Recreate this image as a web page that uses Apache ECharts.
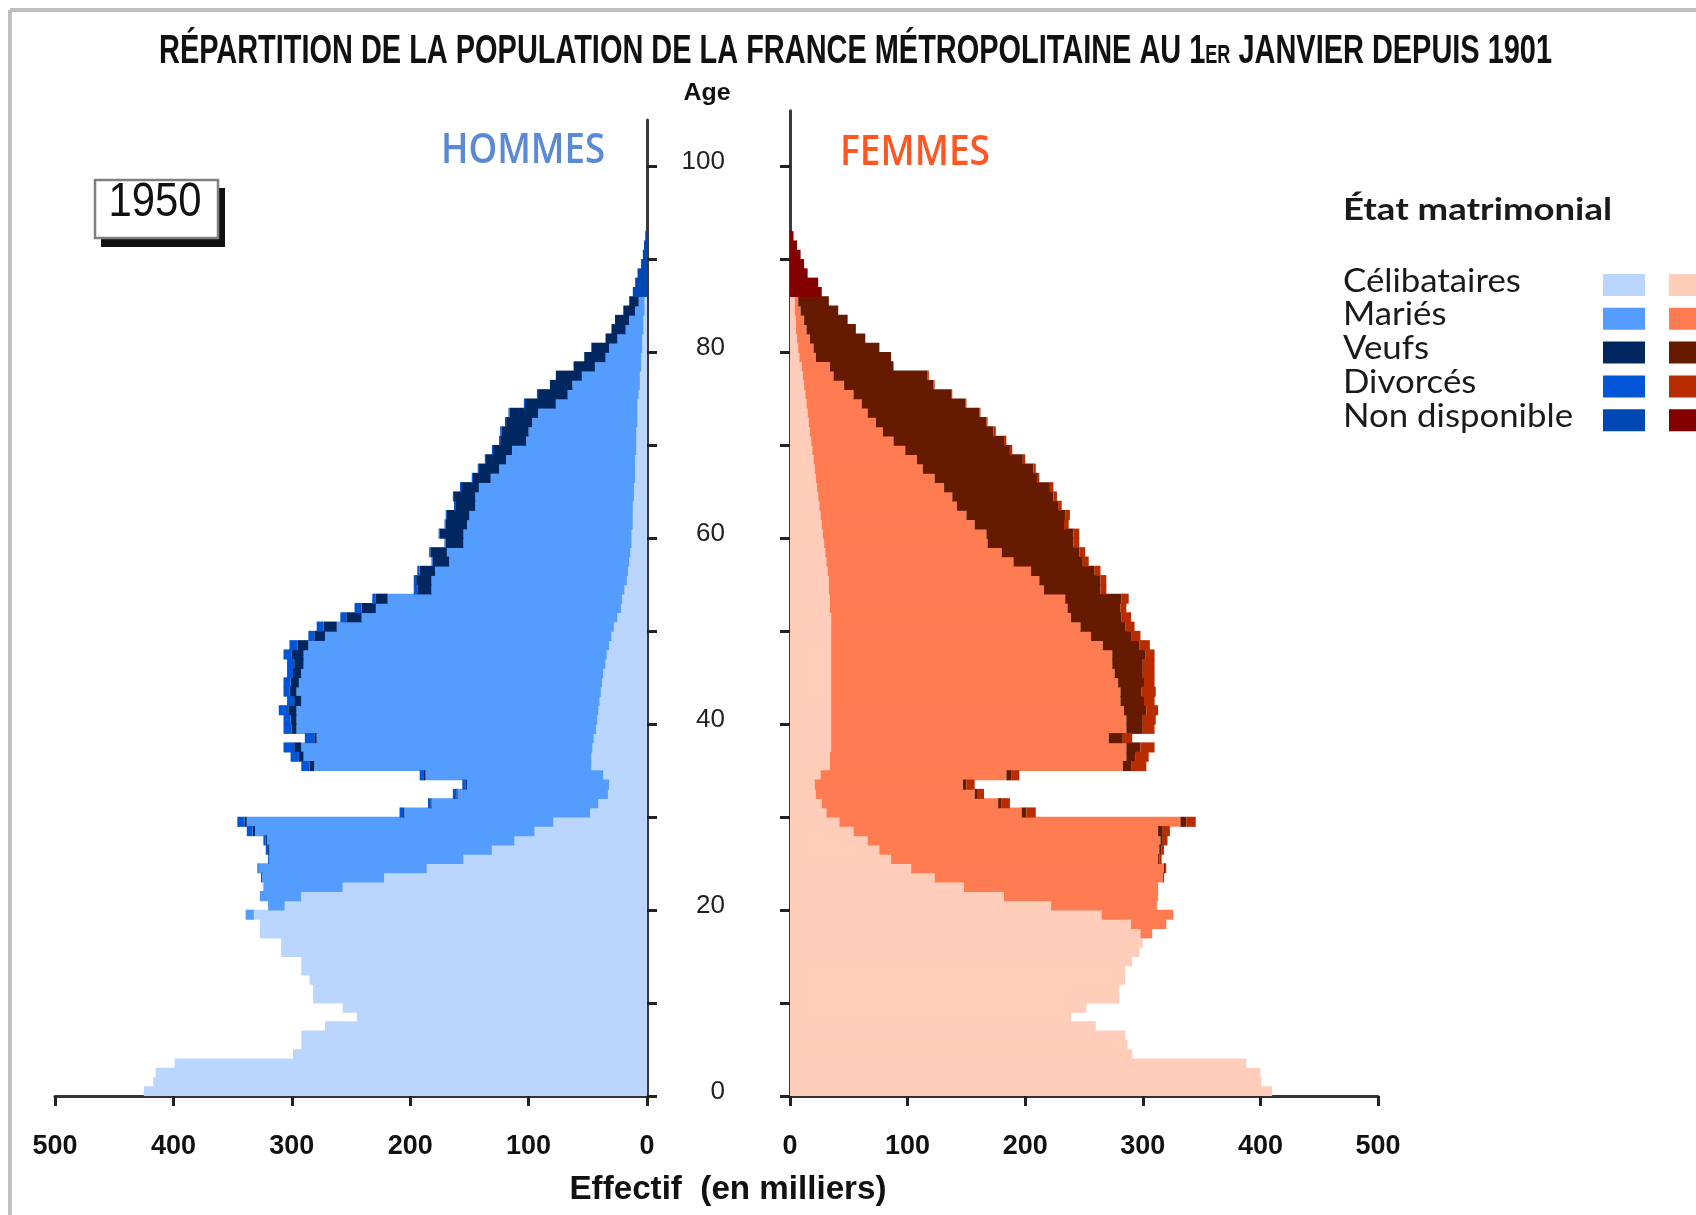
<!DOCTYPE html>
<html>
<head>
<meta charset="utf-8">
<title>Population France métropolitaine 1950</title>
<script src="https://cdn.jsdelivr.net/npm/echarts@6/dist/echarts.min.js"></script>
<style>
  html, body { margin: 0; padding: 0; background: #fff; }
  #chart { width: 1696px; height: 1215px; }
</style>
</head>
<body>
<div id="chart"></div>
<script>
const hommesCelibataires = [
  425, 417, 415, 399, 299, 292, 292, 272, 245, 257,
  282, 282, 285, 292, 292, 309, 309, 327, 327, 332,
  306, 292, 257, 222, 186, 155, 131, 112, 95, 79,
  48, 41, 33, 32, 37, 47, 47, 46, 45, 43,
  42, 41, 40, 39, 38, 37, 35, 34, 32, 30,
  28, 25, 22, 21, 19, 17, 16, 15, 14, 13,
  13, 12, 12, 12, 11, 11, 10, 10, 10, 9,
  9, 9, 8, 8, 8, 7, 6, 6, 5, 5,
  4, 4, 3, 3, 2, 2, 0, 0, 0, 0,
  0, 0, 0, 0
];
const hommesMaries = [
  0, 0, 0, 0, 0, 0, 0, 0, 0, 0,
  0, 0, 0, 0, 0, 0, 0, 0, 0, 7,
  14, 35, 67, 103, 142, 164, 188, 209, 236, 259,
  157, 141, 127, 120, 150, 234, 243, 246, 234, 253,
  254, 255, 252, 257, 256, 255, 255, 256, 254, 242,
  234, 216, 207, 198, 163, 165, 163, 152, 155, 142,
  142, 140, 138, 133, 134, 131, 122, 115, 109, 105,
  93, 91, 89, 84, 69, 60, 57, 49, 39, 30,
  28, 21, 15, 12, 8, 5, 0, 0, 0, 0,
  0, 0, 0, 0
];
const hommesVeufs = [
  0, 0, 0, 0, 0, 0, 0, 0, 0, 0,
  0, 0, 0, 0, 0, 0, 0, 0, 0, 0,
  0, 0, 0, 0, 0, 0, 1, 1, 2, 2,
  1, 1, 1, 1, 2, 4, 4, 6, 2, 4,
  5, 7, 6, 6, 7, 7, 8, 10, 9, 9,
  11, 13, 12, 10, 12, 13, 13, 14, 14, 15,
  20, 18, 19, 17, 18, 15, 15, 17, 17, 16,
  22, 23, 22, 24, 26, 25, 19, 22, 18, 18,
  15, 10, 12, 12, 10, 8, 0, 0, 0, 0,
  0, 0, 0, 0
];
const hommesDivorces = [
  0, 0, 0, 0, 0, 0, 0, 0, 0, 0,
  0, 0, 0, 0, 0, 0, 0, 0, 0, 0,
  0, 0, 0, 1, 1, 1, 2, 2, 5, 6,
  3, 2, 3, 3, 3, 7, 7, 9, 8, 7,
  6, 8, 6, 5, 6, 5, 6, 7, 7, 5,
  6, 5, 6, 3, 3, 2, 2, 1, 1, 1,
  1, 1, 1, 1, 1, 1, 1, 1, 1, 1,
  1, 1, 1, 1, 1, 1, 0, 0, 0, 0,
  0, 0, 0, 0, 0, 0, 0, 0, 0, 0,
  0, 0, 0, 0
];
const hommesNonDisponible = [
  0, 0, 0, 0, 0, 0, 0, 0, 0, 0,
  0, 0, 0, 0, 0, 0, 0, 0, 0, 0,
  0, 0, 0, 0, 0, 0, 0, 0, 0, 0,
  0, 0, 0, 0, 0, 0, 0, 0, 0, 0,
  0, 0, 0, 0, 0, 0, 0, 0, 0, 0,
  0, 0, 0, 0, 0, 0, 0, 0, 0, 0,
  0, 0, 0, 0, 0, 0, 0, 0, 0, 0,
  0, 0, 0, 0, 0, 0, 0, 0, 0, 0,
  0, 0, 0, 0, 0, 0, 12, 10, 8, 5,
  3.5, 2.5, 1.5, 0
];

const femmesCelibataires = [
  410, 401, 400, 388, 291, 287, 285, 260, 239, 252,
  280, 280, 285, 285, 291, 297, 300, 298, 290, 265,
  222, 182, 148, 123, 103, 86, 76, 66, 54, 42,
  31, 27, 22, 21, 26, 34, 34, 35, 35, 35,
  35, 35, 35, 35, 35, 35, 35, 35, 35, 35,
  35, 35, 34, 34, 33, 33, 32, 31, 30, 29,
  28, 27, 26, 25, 24, 23, 22, 21, 20, 19,
  18, 17, 16, 15, 14, 13, 12, 11, 10, 8,
  7, 6, 5, 5, 4, 4, 0, 0, 0, 0,
  0, 0, 0, 0
];
const femmesMariees = [
  0, 0, 0, 0, 0, 0, 0, 0, 0, 0,
  0, 0, 0, 0, 0, 0, 0, 10, 30, 61,
  90, 131, 165, 194, 215, 227, 238, 249, 259, 290,
  166, 150, 135, 126, 158, 249, 252, 251, 236, 251,
  251, 249, 246, 246, 244, 241, 239, 239, 231, 221,
  212, 204, 202, 200, 183, 179, 173, 159, 150, 139,
  139, 130, 124, 117, 114, 108, 101, 92, 88, 79,
  70, 62, 57, 51, 47, 41, 34, 26, 24, 14,
  13, 11, 9, 7, 5, 3, 0, 0, 0, 0,
  0, 0, 0, 0
];
const femmesVeuves = [
  0, 0, 0, 0, 0, 0, 0, 0, 0, 0,
  0, 0, 0, 0, 0, 0, 0, 0, 0, 0,
  0, 0, 0, 0, 1, 1, 2, 2, 4, 5,
  4, 3, 2, 3, 4, 7, 8, 12, 12, 14,
  14, 19, 20, 18, 22, 24, 26, 28, 31, 34,
  38, 43, 45, 48, 48, 52, 54, 59, 66, 73,
  74, 76, 84, 86, 86, 90, 87, 94, 90, 89,
  94, 94, 94, 95, 88, 83, 76, 80, 54, 64,
  56, 47, 42, 37, 32, 26, 0, 0, 0, 0,
  0, 0, 0, 0
];
const femmesDivorcees = [
  0, 0, 0, 0, 0, 0, 0, 0, 0, 0,
  0, 0, 0, 0, 0, 0, 0, 0, 0, 0,
  0, 0, 0, 1, 1, 2, 2, 4, 6, 8,
  8, 7, 6, 7, 7, 13, 11, 12, 8, 10,
  11, 10, 9, 12, 9, 10, 10, 8, 9, 8,
  8, 8, 5, 6, 5, 5, 5, 5, 5, 5,
  5, 4, 4, 3, 3, 3, 2, 2, 2, 2,
  2, 2, 1, 1, 1, 1, 1, 1, 0, 0,
  0, 0, 0, 0, 0, 0, 0, 0, 0, 0,
  0, 0, 0, 0
];
const femmesNonDisponible = [
  0, 0, 0, 0, 0, 0, 0, 0, 0, 0,
  0, 0, 0, 0, 0, 0, 0, 0, 0, 0,
  0, 0, 0, 0, 0, 0, 0, 0, 0, 0,
  0, 0, 0, 0, 0, 0, 0, 0, 0, 0,
  0, 0, 0, 0, 0, 0, 0, 0, 0, 0,
  0, 0, 0, 0, 0, 0, 0, 0, 0, 0,
  0, 0, 0, 0, 0, 0, 0, 0, 0, 0,
  0, 0, 0, 0, 0, 0, 0, 0, 0, 0,
  0, 0, 0, 0, 0, 0, 27, 24, 15, 12,
  9, 6, 3, 0
];

const etats = ['Célibataires', 'Mariés', 'Veufs', 'Divorcés', 'Non disponible'];
const couleursHommes = ['#bad6ff', '#549dff', '#00275f', '#0056d6', '#0049b5'];
const couleursFemmes = ['#ffcdb9', '#ff7c52', '#661a00', '#b82c00', '#820000'];
const ageTicks = [0, 10, 20, 30, 40, 50, 60, 70, 80, 90, 100];
const ageLabels = [0, 20, 40, 60, 80, 100];
const ageMaxHommes = 105;
const ageMaxFemmes = 106;

const hommes = [hommesCelibataires, hommesMaries, hommesVeufs, hommesDivorces, hommesNonDisponible];
const femmes = [femmesCelibataires, femmesMariees, femmesVeuves, femmesDivorcees, femmesNonDisponible];

// categories d'âge (une barre par année)
const agesH = [], agesF = [];
for (let a = 0; a < ageMaxHommes; a++) agesH.push(String(a));
for (let a = 0; a < ageMaxFemmes; a++) agesF.push(String(a));

const bande = 9.295; // hauteur d'une année en pixels

// police étroite si elle est installée
const ctx = document.createElement('canvas').getContext('2d');
function largeur(txt, font) { ctx.font = font; return ctx.measureText(txt).width; }
function policeDispo(nom) {
  const s = 'mmmmmmmmmmlli0123456789ABCDEF';
  return largeur(s, '40px monospace') !== largeur(s, '40px "' + nom + '", monospace');
}
const NARROW = policeDispo('Liberation Sans Narrow') ? '"Liberation Sans Narrow"' : '"Liberation Sans"';
const isNarrow = NARROW.indexOf('Narrow') >= 0;

// texte ajusté en largeur (scaleX) ; y = milieu de l'em
function texte(str, font, x, y, w, fill, align) {
  return {
    type: 'text', x: x, y: y, scaleX: w / largeur(str, font), silent: true,
    style: { text: str, font: font, fill: fill, align: align || 'center', verticalAlign: 'middle' }
  };
}

const graphics = [];
// cadre
graphics.push({ type: 'line', silent: true, shape: { x1: 10, y1: 10, x2: 1696, y2: 10 }, style: { stroke: '#c0c0c0', lineWidth: 4 } });
graphics.push({ type: 'line', silent: true, shape: { x1: 10, y1: 10, x2: 10, y2: 1215 }, style: { stroke: '#c0c0c0', lineWidth: 4 } });

// titre en trois morceaux ("1er" en petites capitales)
const tFont = 'bold 40px ' + NARROW, sFont = 'bold 25px ' + NARROW;
const t1 = 'RÉPARTITION DE LA POPULATION DE LA FRANCE MÉTROPOLITAINE AU 1', t2 = 'ER', t3 = ' JANVIER DEPUIS 1901';
const w1 = largeur(t1, tFont), w2 = largeur(t2, sFont), w3 = largeur(t3, tFont);
const ts = 1393 / (w1 + w2 + w3);
[[t1, tFont, 159, 51.5], [t2, sFont, 159 + w1 * ts, 56.5], [t3, tFont, 159 + (w1 + w2) * ts, 51.5]].forEach(function (p) {
  graphics.push({ type: 'text', x: p[2], y: p[3], scaleX: ts, silent: true,
    style: { text: p[0], font: p[1], fill: '#111', align: 'left', verticalAlign: 'middle' } });
});

graphics.push(texte('Age', 'bold 23px ' + NARROW, 707, 94, 47, '#111'));
graphics.push(texte('Effectif  (en milliers)', 'bold 33px ' + NARROW, 728, 1190, 317, '#111'));
graphics.push(texte('HOMMES', '600 42px "Open Sans"', 523, 151, 164, '#5a8ad6'));
graphics.push(texte('FEMMES', '600 42px "Open Sans"', 915, 153, 150, '#ff5622'));

// cartouche de l'année
graphics.push({ type: 'rect', silent: true, shape: { x: 101, y: 188, width: 124, height: 59 }, style: { fill: '#111' } });
graphics.push({ type: 'rect', silent: true, shape: { x: 95, y: 180, width: 123, height: 58 }, style: { fill: '#fff', stroke: '#808080', lineWidth: 2.5 } });
graphics.push(texte('1950', '500 48px "Liberation Sans"', 155, 203, 93, '#111'));

// légende
graphics.push(texte('État matrimonial', 'bold 30px Lato', 1343, 210, 269, '#1a1a1a', 'left'));
const legFont = '33px Lato';
const legScale = 230 / largeur('Non disponible', legFont);
etats.forEach(function (nom, i) {
  const yc = 285 + 33.8 * i;
  graphics.push({ type: 'text', x: 1343, y: yc - 4, scaleX: legScale, silent: true,
    style: { text: nom, font: legFont, fill: '#1a1a1a', align: 'left', verticalAlign: 'middle' } });
  graphics.push({ type: 'rect', silent: true, shape: { x: 1603, y: yc - 11, width: 42, height: 22 }, style: { fill: couleursHommes[i] } });
  graphics.push({ type: 'rect', silent: true, shape: { x: 1669, y: yc - 11, width: 42, height: 22 }, style: { fill: couleursFemmes[i] } });
});

function serie(vals, nom, couleur, idx, pile) {
  return {
    type: 'bar', name: nom, stack: pile, xAxisIndex: idx, yAxisIndex: idx * 2,
    data: vals.map(function (v) { return v > 0 ? v : '-'; }),
    barWidth: bande + 0.8, silent: true,
    itemStyle: { color: couleur }
  };
}
const series = [];
hommes.forEach(function (vals, i) { series.push(serie(vals, etats[i], couleursHommes[i], 0, 'hommes')); });
femmes.forEach(function (vals, i) { series.push(serie(vals, etats[i], couleursFemmes[i], 1, 'femmes')); });

const xLabel = { margin: 37, fontFamily: NARROW, fontSize: isNarrow ? 31 : 27, fontWeight: 'bold', color: '#111' };
function axeX(idx, inverse) {
  return {
    type: 'value', gridIndex: idx, min: 0, max: 500, interval: 100, inverse: inverse,
    axisLine: { show: true, onZero: false, lineStyle: { color: '#333', width: 3 } },
    axisTick: { show: true, length: 10, lineStyle: { color: '#222', width: 3 } },
    axisLabel: xLabel, splitLine: { show: false }
  };
}
function axeAge(idx, pos, cats, showLabels) {
  return {
    type: 'category', gridIndex: idx, position: pos, data: cats, boundaryGap: true,
    axisLine: { show: true, onZero: false, lineStyle: { color: '#3a3a3a', width: 3 } },
    axisTick: { show: false }, splitLine: { show: false },
    axisLabel: {
      show: showLabels, margin: 65, color: '#222',
      fontFamily: NARROW, fontSize: isNarrow ? 31 : 26,
      interval: function (index) { return ageLabels.indexOf(index) >= 0; }
    }
  };
}
function axeTicks(idx, pos, max) {
  return {
    type: 'value', gridIndex: idx, position: pos, min: 0, max: max, interval: 10,
    axisLine: { show: false }, axisLabel: { show: false }, splitLine: { show: false },
    axisTick: { show: true, length: 10, lineStyle: { color: '#222', width: 3 }, customValues: ageTicks }
  };
}

const chart = echarts.init(document.getElementById('chart'));
chart.setOption({
  animation: false,
  backgroundColor: '#fff',
  grid: [
    { left: 55, right: 1696 - 647, top: 1096 - ageMaxHommes * bande, bottom: 1215 - 1096 },
    { left: 790, right: 1696 - 1378, top: 1096 - ageMaxFemmes * bande, bottom: 1215 - 1096 }
  ],
  xAxis: [axeX(0, true), axeX(1, false)],
  yAxis: [
    axeAge(0, 'right', agesH, false), axeTicks(0, 'right', ageMaxHommes),
    axeAge(1, 'left', agesF, true), axeTicks(1, 'left', ageMaxFemmes)
  ],
  series: series,
  graphic: graphics
});
</script>
</body>
</html>
